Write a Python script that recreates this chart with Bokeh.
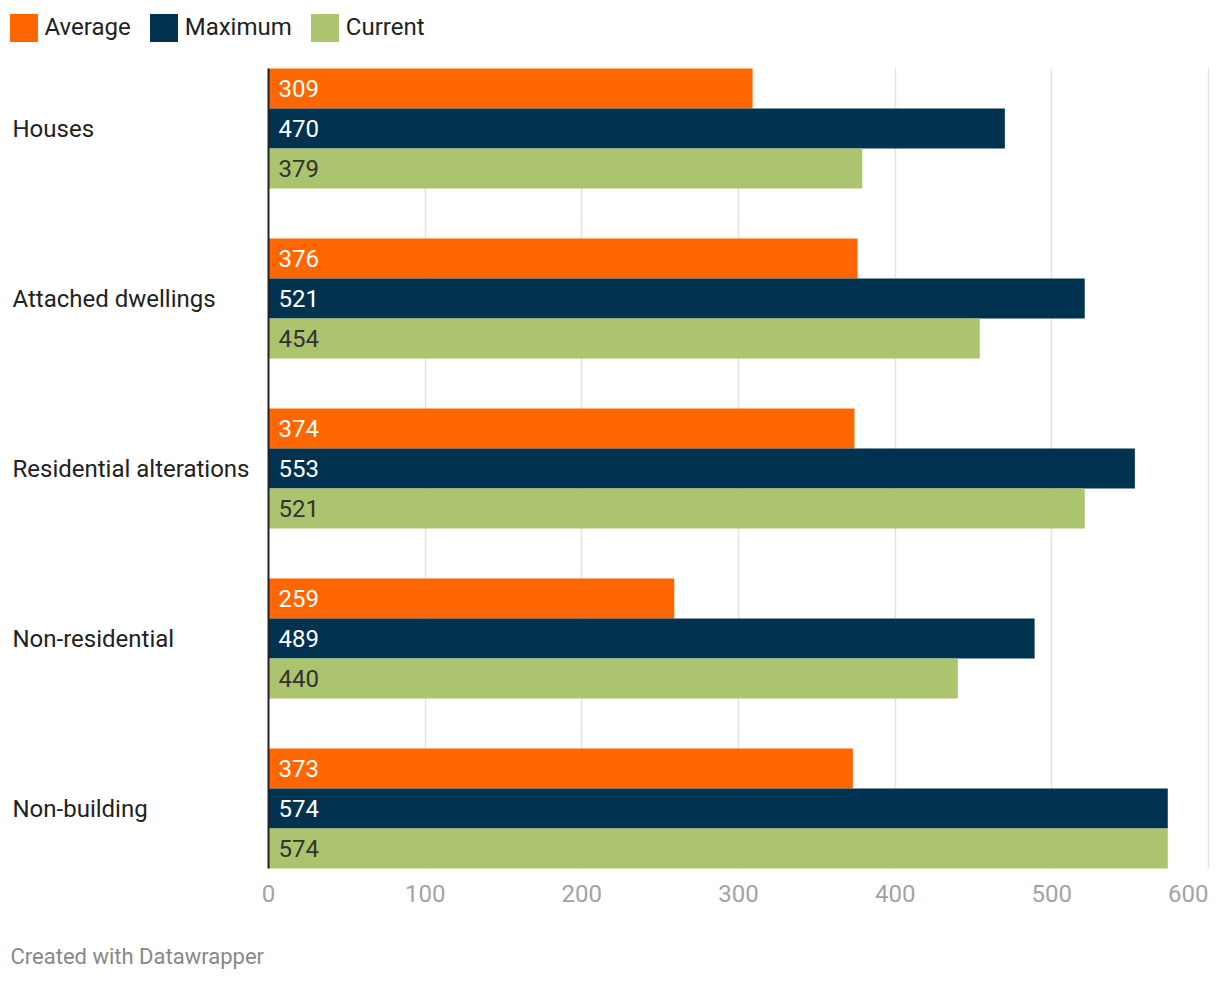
from bokeh.plotting import figure
from bokeh.models import (ColumnDataSource, FactorRange, Range1d, Grid, FixedTicker,
                          Legend, LegendItem, Title)
from bokeh.core.properties import value
from bokeh.embed import file_html
from bokeh.resources import INLINE

# ---------------- data ----------------
categories = ["Houses", "Attached dwellings", "Residential alterations",
              "Non-residential", "Non-building"]
series = ["Average", "Maximum", "Current"]
average = [309, 376, 374, 259, 373]
maximum = [470, 521, 553, 489, 574]
current = [379, 454, 521, 440, 574]
x_ticks = [0, 100, 200, 300, 400, 500, 600]
tick_labels = ["0", "100", "200", "300", "400", "500", "600"]
footer_text = "Created with Datawrapper"

# ---------------- style ----------------
colors = {"Average": "#ff6600", "Maximum": "#01324f", "Current": "#abc46d"}
label_colors = {"Average": "#ffffff", "Maximum": "#ffffff", "Current": "#333333"}
FONT = "Roboto"

W, H = 1212, 974
FRAME_H = 936
X0_PX = 268          # screen x of value 0 inside canvas
XMAX_PX = 1208       # screen x of last tick
ppu = (XMAX_PX - X0_PX) / (x_ticks[-1] - x_ticks[0])
x_range = Range1d(-X0_PX / ppu, (W - X0_PX) / ppu)

GROUP_PAD = 1.25
factors = [(c, s) for c in reversed(categories) for s in reversed(series)]
y_range = FactorRange(factors=factors, group_padding=GROUP_PAD, factor_padding=0,
                      range_padding=1.7, range_padding_units="absolute")
span_units = len(categories) * len(series) + (len(categories) - 1) * GROUP_PAD

p = figure(width=W, height=H, x_range=x_range, y_range=y_range,
           output_backend="svg", toolbar_location=None,
           x_axis_location=None, y_axis_location=None,
           min_border_left=0, min_border_right=0, min_border_top=0,
           min_border_bottom=H - FRAME_H, outline_line_color=None)
p.grid.visible = False

# grid lines
grid = Grid(dimension=0, ticker=FixedTicker(ticks=x_ticks[1:]),
            cross_bounds=(0, span_units),
            grid_line_color="#e3e3e3", grid_line_width=1.5)
p.add_layout(grid)

items = []
for s, vals in zip(series, [average, maximum, current]):
    src = ColumnDataSource(dict(y=[(c, s) for c in categories], v=vals,
                                t=[str(v) for v in vals]))
    r = p.hbar(y="y", left=0, right="v", height=1.0, source=src,
               fill_color=colors[s], line_color=None)
    p.text(x=0, y="y", text="t", source=src, x_offset=10,
           text_baseline="middle", text_align="left",
           text_font=value(FONT), text_font_size="24px",
           text_color=label_colors[s])
    items.append(LegendItem(label=s, renderers=[r]))

# baseline axis line at 0
axis_line = Grid(dimension=0, ticker=FixedTicker(ticks=[0]),
                 cross_bounds=(0, span_units),
                 grid_line_color="#222222", grid_line_width=2, level="annotation")
p.add_layout(axis_line)

# category labels
p.text(x=0, y=categories, text=categories, x_offset=-(X0_PX - 12),
       text_baseline="middle", text_align="left",
       text_font=value(FONT), text_font_size="24px", text_color="#222222")

# x tick labels
tick_src = ColumnDataSource(dict(
    x=x_ticks, y=[(categories[-1], series[-1])] * len(x_ticks), t=tick_labels,
    a=["center"] * (len(x_ticks) - 1) + ["right"]))
p.text(x="x", y="y", text="t", source=tick_src, y_offset=45,
       text_align="a", text_baseline="middle",
       text_font=value(FONT), text_font_size="24px", text_color="#a3a3a3")

legend = Legend(items=items, orientation="horizontal",
                location=(5.5, FRAME_H - 44.5),
                glyph_width=35, glyph_height=35, label_height=35,
                label_standoff=4, spacing=15, padding=0, margin=0,
                border_line_color=None, background_fill_alpha=0,
                label_text_font=FONT, label_text_font_size="24px",
                label_text_color="#222222")
p.add_layout(legend)

footer = Title(text=footer_text, align="left", offset=10,
               text_font=FONT, text_font_size="22px", text_font_style="normal",
               text_color="#888888")
p.add_layout(footer, "below")

open("out.html", "w").write(file_html(p, INLINE))
